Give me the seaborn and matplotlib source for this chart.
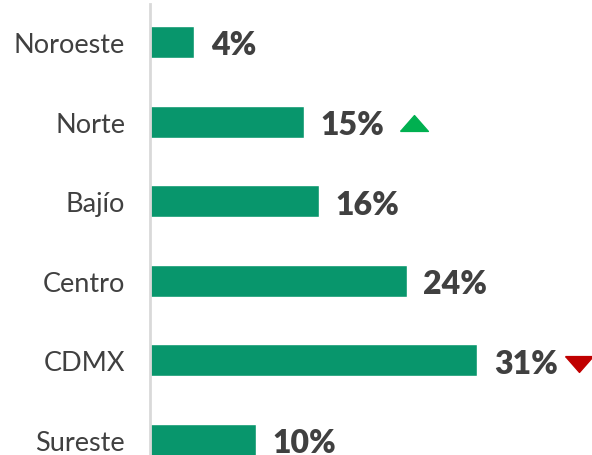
import numpy as np
import matplotlib
matplotlib.use('Agg')
import matplotlib.pyplot as plt
import matplotlib.transforms as mtransforms
import seaborn as sns
import pandas as pd

regiones = ['Noroeste', 'Norte', 'Bajío', 'Centro', 'CDMX', 'Sureste']
valores = [4.2, 14.6, 16.0, 24.3, 31.0, 10.0]
etiquetas = ['4%', '15%', '16%', '24%', '31%', '10%']
tendencia = ['', 'up', '', '', 'down', '']

sns.set_style('white')
plt.rcParams['font.family'] = ['Lato', 'DejaVu Sans']

df = pd.DataFrame({'region': regiones, 'valor': valores})

fig = plt.figure(figsize=(5.92, 4.56), dpi=100)
ax = fig.add_axes([150 / 592, 0, 1 - 150 / 592, 451 / 456])

sns.barplot(data=df, x='valor', y='region', orient='h', color='#08966C',
            width=0.4, saturation=1, ax=ax)

ax.set_xlim(0, 41.86)
ax.set_ylim(5.19, -0.48)
ax.set_xlabel('')
ax.set_ylabel('')
ax.set_xticks([])
ax.tick_params(axis='y', length=0, pad=18, labelsize=19.5, labelcolor='#404040')

for s in ['top', 'right', 'bottom']:
    ax.spines[s].set_visible(False)
ax.spines['left'].set_color('#d9d9d9')
ax.spines['left'].set_linewidth(2)

up = [(-1, -0.57), (1, -0.57), (0, 0.57), (-1, -0.57)]
down = [(-1, 0.57), (1, 0.57), (0, -0.57), (-1, 0.57)]
# horizontal offset of the arrow from the bar end, in pixels
flecha = {'up': (110, up, '#00B050', -1), 'down': (102, down, '#C00000', -4)}

for i, (v, lab, t) in enumerate(zip(valores, etiquetas, tendencia)):
    ax.annotate(lab, (v, i), xytext=(12, -2), textcoords='offset points',
                va='center', ha='left', fontsize=23, fontweight='heavy',
                color='#404040', annotation_clip=False)
    if t:
        dx, mk, col, dy = flecha[t]
        tr = mtransforms.offset_copy(ax.transData, fig=fig, x=dx, y=dy, units='dots')
        ax.plot(v, i, marker=mk, markersize=20, color=col, transform=tr,
                clip_on=False)

fig.savefig('out.png', dpi=100)
